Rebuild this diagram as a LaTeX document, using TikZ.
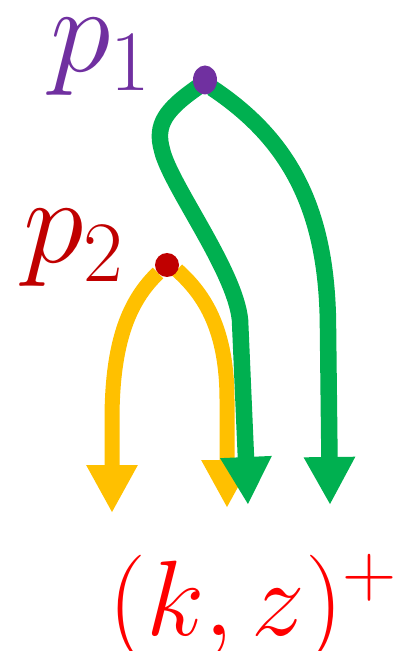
\documentclass[tikz,border=0pt]{standalone}
\usepackage{fix-cm}
\usetikzlibrary{arrows.meta}
\definecolor{pone}{HTML}{7030A0}
\definecolor{ptwo}{HTML}{C00000}
\definecolor{grn}{HTML}{00B050}
\definecolor{ylw}{HTML}{FFC000}
\definecolor{kzred}{HTML}{FF0000}
\begin{document}
\begin{tikzpicture}[x=0.02cm,y=-0.02cm,
  gline/.style={draw=grn,line width=3.3mm,-{Triangle[length=9.6mm,width=9.6mm]}},
  yline/.style={draw=ylw,line width=3mm,-{Triangle[length=9.6mm,width=9.6mm]}},
  lbl/.style={inner sep=0pt,anchor=base west}]
  \useasboundingbox (0,0) rectangle (399,651);
  \coordinate (p1) at (205,80);
  \coordinate (p2) at (167,265);
  \coordinate (y1) at (112,513);
  \coordinate (y2) at (227,508);
  \coordinate (g1) at (248,505);
  \coordinate (g2) at (330,505);
  \draw[yline] (p2) ++(-9,8) .. controls (130,300) and (112,340) .. (112,420) -- (y1);
  \draw[yline] (p2) ++(10,5) .. controls (205,295) and (227,330) .. (227,400) -- (y2);
  \draw[gline] (p1) ++(-7,7) .. controls (165,110) and (155,125) .. (162,150)
    .. controls (170,185) and (235,270) .. (240,320) -- (g1);
  \draw[gline] (p1) ++(7,8) .. controls (290,140) and (328,210) .. (328,330) -- (g2);
  \fill[pone] (p1) ellipse (12 and 14.5);
  \fill[ptwo] (p2) circle (12);
  \node[lbl,text=pone,font=\fontsize{70}{80}\selectfont] (lp1) at (50,72) {$p_1$};
  \node[lbl,text=ptwo,font=\fontsize{70}{80}\selectfont] (lp2) at (23,263) {$p_2$};
  \node[lbl,text=kzred,font=\fontsize{61}{70}\selectfont] (kz) at (108,635) {$(k,z)^+$};
\end{tikzpicture}
\end{document}
